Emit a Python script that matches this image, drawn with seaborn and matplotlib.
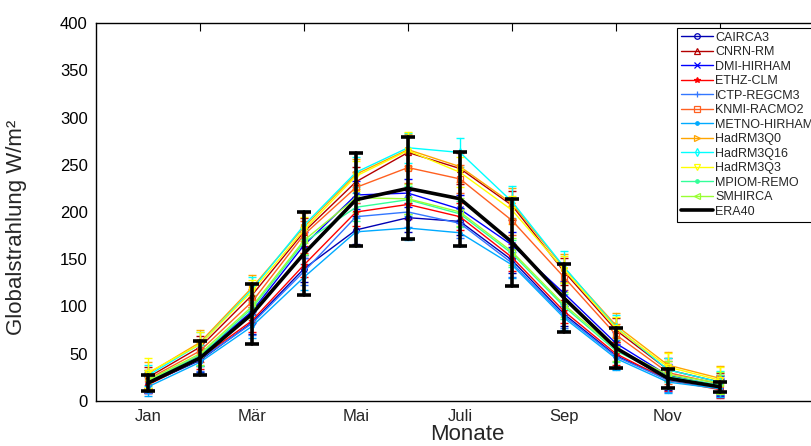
import matplotlib
matplotlib.use("Agg")
import matplotlib.pyplot as plt
import seaborn as sns
import pandas as pd

months = list(range(1, 13))
month_labels = ["Jan", "Mär", "Mai", "Juli", "Sep", "Nov"]
label_positions = [1, 3, 5, 7, 9, 11]

model_names = ["CAIRCA3", "CNRN-RM", "DMI-HIRHAM", "ETHZ-CLM", "ICTP-REGCM3",
               "KNMI-RACMO2", "METNO-HIRHAM", "HadRM3Q0", "HadRM3Q16",
               "HadRM3Q3", "MPIOM-REMO", "SMHIRCA", "ERA40"]

cairca3 = [18, 43, 83, 140, 181, 194, 190, 149, 92, 48, 23, 14]
cnrn_rm = [25, 57, 112, 179, 232, 263, 246, 207, 137, 75, 33, 20]
dmi_hirham = [20, 48, 95, 165, 218, 220, 203, 165, 114, 61, 27, 16]
ethz_clm = [17, 45, 85, 144, 200, 208, 195, 152, 95, 50, 22, 12]
ictp_regcm3 = [19, 44, 82, 137, 195, 200, 188, 146, 90, 47, 22, 14]
knmi_racmo2 = [23, 53, 105, 176, 226, 247, 235, 191, 131, 70, 30, 18]
metno_hirham = [15, 41, 79, 131, 179, 183, 178, 144, 88, 45, 20, 13]
hadrm3q0 = [29, 62, 120, 184, 240, 266, 248, 209, 141, 80, 38, 24]
hadrm3q16 = [27, 60, 118, 186, 242, 268, 263, 211, 142, 78, 33, 20]
hadrm3q3 = [30, 60, 116, 181, 238, 265, 242, 202, 139, 77, 36, 22]
mpiom_remo = [21, 48, 98, 168, 205, 213, 198, 156, 100, 53, 26, 17]
smhirca = [22, 50, 100, 170, 215, 214, 200, 158, 102, 55, 28, 19]
era40 = [19, 45.5, 92, 156, 213, 225, 214, 168, 109, 56, 24, 15]

err_cairca3 = [10, 12, 12, 14, 15, 15, 14, 14, 13, 12, 11, 9]
err_cnrn_rm = [11, 12, 13, 15, 16, 17, 16, 15, 14, 13, 12, 10]
err_dmi_hirham = [10, 11, 12, 14, 15, 15, 15, 14, 13, 12, 12, 10]
err_ethz_clm = [9, 11, 12, 13, 15, 15, 14, 14, 12, 12, 11, 9]
err_ictp_regcm3 = [11, 12, 12, 14, 15, 16, 15, 15, 13, 13, 12, 10]
err_knmi_racmo2 = [10, 12, 13, 14, 16, 16, 15, 15, 14, 12, 12, 10]
err_metno_hirham = [10, 11, 12, 14, 15, 13, 14, 14, 13, 12, 12, 9]
err_hadrm3q0 = [12, 13, 13, 15, 16, 17, 16, 16, 15, 13, 14, 13]
err_hadrm3q16 = [11, 13, 13, 15, 16, 16, 15, 17, 17, 13, 13, 12]
err_hadrm3q3 = [16, 13, 12, 14, 16, 20, 16, 15, 14, 12, 15, 14]
err_mpiom_remo = [10, 11, 12, 14, 15, 15, 14, 14, 13, 12, 12, 10]
err_smhirca = [11, 12, 12, 14, 15, 16, 15, 14, 13, 13, 14, 12]
err_era40 = [8, 18, 32, 44, 49, 54, 50, 46, 36, 21, 10, 5]

values = [cairca3, cnrn_rm, dmi_hirham, ethz_clm, ictp_regcm3, knmi_racmo2,
          metno_hirham, hadrm3q0, hadrm3q16, hadrm3q3, mpiom_remo, smhirca, era40]
errors = [err_cairca3, err_cnrn_rm, err_dmi_hirham, err_ethz_clm, err_ictp_regcm3,
          err_knmi_racmo2, err_metno_hirham, err_hadrm3q0, err_hadrm3q16,
          err_hadrm3q3, err_mpiom_remo, err_smhirca, err_era40]

colors = ["#0000B4", "#B40000", "#0000FF", "#FF0000", "#3377FF", "#FF6020",
          "#00AAFF", "#FFA500", "#00FFFF", "#FFFF00", "#33FF99", "#99FF33", "#000000"]
markers = ["o", "^", "x", "*", "+", "s", ".", ">", "d", "v", ".", "<", None]

sns.set_theme(style="white")
plt.rcParams["font.family"] = ["Liberation Sans", "DejaVu Sans"]

fig = plt.figure(figsize=(8.12, 4.46), dpi=100)
ax = fig.add_axes([96 / 812, 1 - 401 / 446, 728 / 812, 378 / 446])

handles = []
for name, vals, errs, col, mk in zip(model_names, values, errors, colors, markers):
    rows = []
    for m, v, e in zip(months, vals, errs):
        rows.append({"month": m, "val": v - e})
        rows.append({"month": m, "val": v + e})
    df = pd.DataFrame(rows)
    is_ref = name == "ERA40"
    lw = 2.6 if is_ref else 1.0
    kw = dict(marker=mk, markersize=4 if mk not in (".",) else 5,
              markerfacecolor="none" if mk in ("o", "^", "s", ">", "d", "v", "<") else col,
              markeredgecolor=col, markeredgewidth=0.9) if mk else {}
    n_before = len(ax.lines)
    sns.lineplot(data=df, x="month", y="val", estimator="mean",
                 errorbar=("pi", 100), err_style="bars",
                 err_kws=dict(capsize=4.7 if is_ref else 3.2,
                              elinewidth=2.6 if is_ref else 1.0,
                              capthick=2.6 if is_ref else 1.0,
                              zorder=5 if is_ref else 2),
                 color=col, linewidth=lw, ax=ax, legend=False,
                 zorder=6 if is_ref else 3, **kw)
    handles.append(ax.lines[n_before])

ax.set_xlim(0, 14)
ax.set_ylim(0, 400)
ax.set_yticks(range(0, 401, 50))
ax.set_xticks([2, 4, 6, 8, 10, 12])
ax.set_xticklabels([])
ax.set_xticks(label_positions, minor=True)
ax.set_xticklabels(month_labels, minor=True)
ax.tick_params(axis="x", which="minor", length=0, pad=6, labelsize=12)
ax.tick_params(axis="both", which="major", direction="in", length=6, width=0.8,
               top=True, right=True, labelsize=12, colors="black", pad=6)
for sp in ax.spines.values():
    sp.set_visible(True)
    sp.set_color("black")
    sp.set_linewidth(1.0)

ax.set_xlabel("Monate", fontsize=16)
ax.set_ylabel("Globalstrahlung W/m²", fontsize=16)
ax.xaxis.set_label_coords(0.51, -0.062)
ax.yaxis.set_label_coords(-0.095, 0.46)

leg = ax.legend(handles, model_names, loc="upper left",
                bbox_to_anchor=(677 / 812, 1 - 28 / 446),
                bbox_transform=fig.transFigure, frameon=True, fancybox=False,
                edgecolor="black", framealpha=1, fontsize=9,
                handlelength=2.6, labelspacing=0.2, borderpad=0.3,
                handletextpad=0.15, borderaxespad=0)
leg.get_frame().set_linewidth(0.8)

fig.savefig("out.png", dpi=100, facecolor="white")
